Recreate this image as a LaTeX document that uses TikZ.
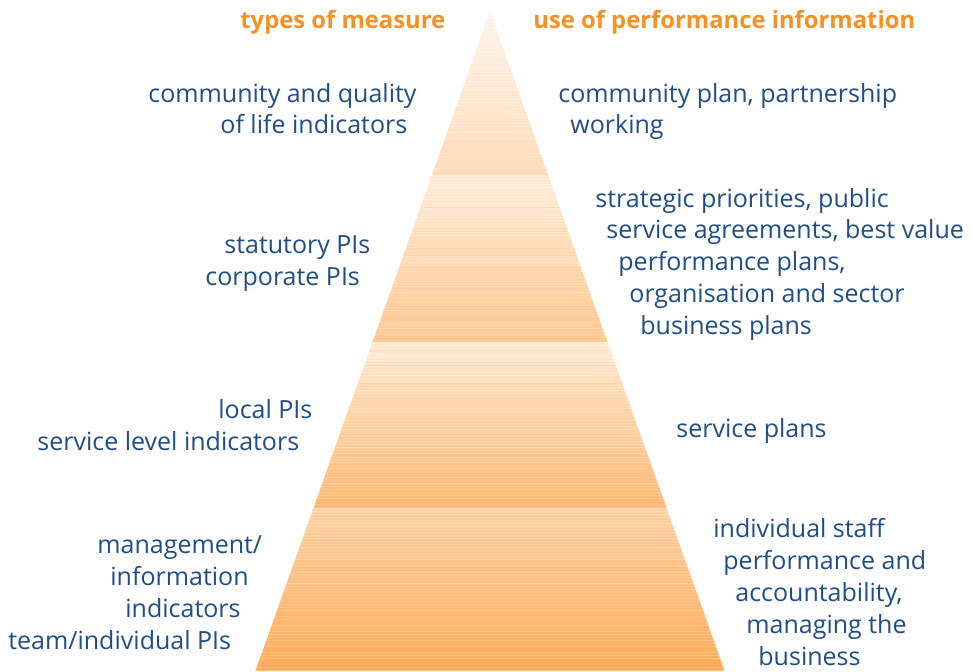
\documentclass[tikz,border=0pt]{standalone}
\usepackage{fontspec}
\setmainfont{Open Sans}

\definecolor{pyrblue}{RGB}{31,78,133}
\definecolor{pyrorange}{RGB}{244,146,38}

\tikzset{
  measure/.style={anchor=base west,inner sep=0pt,text=pyrblue,
    font=\fontsize{12.5}{15}\selectfont},
  heading/.style={anchor=base west,inner sep=0pt,text=pyrorange,
    font=\fontsize{11.9}{14}\selectfont\bfseries},
}

\begin{document}
\begin{tikzpicture}[x=0.5pt,y=-0.5pt]
\useasboundingbox (0,0) rectangle (973,671);
\pgfmathsetseed{7}
% one slice of the pyramid: top y, bottom y, top colour, bottom colour
\newcommand\band[4]{
\begin{scope}
\clip ({490-0.356*(#1-12)},#1) -- ({490+0.356*(#1-12)},#1)
  -- ({490+0.356*(#2-12)},#2) -- ({490-0.356*(#2-12)},#2) -- cycle;
\shade[top color=#3,bottom color=#4] (240,#1) rectangle (740,#2);
\foreach \k in {0,3,...,168} {
  \pgfmathsetmacro\op{0.35*rnd}
  \fill[white,opacity=\op] (240,#1+\k) rectangle (740,#1+\k+1);
  \pgfmathsetmacro\op{0.25*rnd}
  \fill[#4,opacity=\op] (240,#1+\k+1.5) rectangle (740,#1+\k+2.5);
}
\end{scope}
}
\newcommand\lbl[4]{
\node[measure] (#1) at (#2,#3) {#4};
}

% pyramid
\band{12}{175}{white!60!orange!20}{orange!28}
\band{175}{342}{orange!14}{orange!44}
\band{342}{508}{orange!16}{orange!56}
\band{508}{671}{orange!34}{orange!66}

% headings
\node[heading] (types) at (240,28) {types of measure};
\node[heading] (use) at (533,28) {use of performance information};

% types of measure
\lbl{cq1}{148}{102}{community and quality}
\lbl{cq2}{220}{133}{of life indicators}
\lbl{st1}{224}{253}{statutory PIs}
\lbl{st2}{205}{285}{corporate PIs}
\lbl{lo1}{218}{418}{local PIs}
\lbl{lo2}{37}{450}{service level indicators}
\lbl{mi1}{97}{553}{management/}
\lbl{mi2}{110}{585}{information}
\lbl{mi3}{125}{617}{indicators}
\lbl{mi4}{8}{649}{team/individual PIs}

% use of performance information
\lbl{cp1}{558}{102}{community plan, partnership}
\lbl{cp2}{570}{133}{working}
\lbl{sp1}{595}{207}{strategic priorities, public}
\lbl{sp2}{606}{238}{service agreements, best value}
\lbl{sp3}{618}{270}{performance plans,}
\lbl{sp4}{629}{302}{organisation and sector}
\lbl{sp5}{640}{334}{business plans}
\lbl{sv1}{676}{437}{service plans}
\lbl{is1}{713}{537}{individual staff}
\lbl{is2}{723}{569}{performance and}
\lbl{is3}{735}{601}{accountability,}
\lbl{is4}{746}{633}{managing the}
\lbl{is5}{758}{665}{business}
\end{tikzpicture}
\end{document}
